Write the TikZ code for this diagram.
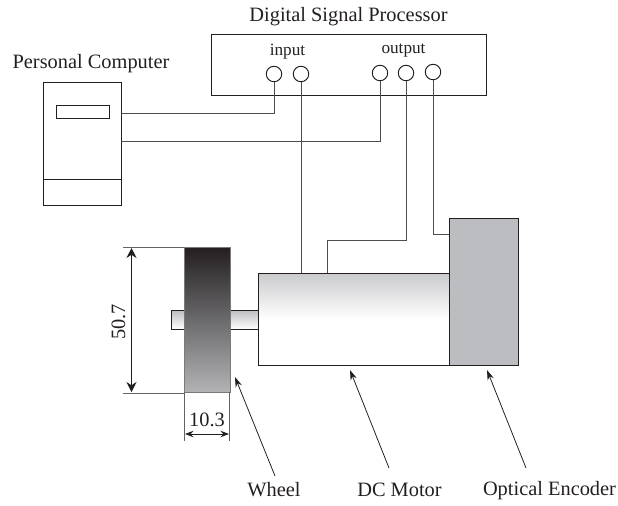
\documentclass[tikz,border=0pt]{standalone}
\usepackage{fontspec}
\setmainfont{Liberation Serif}
\usetikzlibrary{arrows.meta}
\definecolor{encgray}{HTML}{BCBDC0}
\definecolor{linegray}{HTML}{231F20}
\tikzset{
	box/.style={draw=linegray,line width=0.55pt,inner sep=0pt,outer sep=0pt},
	port/.style={circle,draw=linegray,line width=0.55pt,fill=white,inner sep=0pt,outer sep=0pt,minimum size=0.31cm},
	wire/.style={draw=linegray!80,line width=0.55pt},
	dim/.style={draw=linegray,line width=0.6pt,{Stealth[length=0.2cm,width=0.2cm]}-{Stealth[length=0.2cm,width=0.2cm]}},
	smalldim/.style={draw=linegray,line width=0.55pt,{Stealth[length=0.17cm,width=0.13cm]}-{Stealth[length=0.17cm,width=0.13cm]}},
	leader/.style={draw=linegray,line width=0.45pt,-{Stealth[length=0.2cm,width=0.13cm]}},
	ext/.style={draw=linegray!70,line width=0.55pt},
	lab/.style={inner sep=0pt,text=linegray,font=\fontsize{11.6}{13}\selectfont},
	smalllab/.style={inner sep=0pt,text=linegray,font=\fontsize{9.8}{12}\selectfont}
}
\begin{document}
\begin{tikzpicture}[x=0.02cm,y=-0.02cm]
	\useasboundingbox (0,0) rectangle (618,505);
	% titles
	\node[lab] (dsptitle) at (348.5,16.5) {Digital Signal Processor};
	\node[lab] (pctitle) at (91,64) {Personal Computer};
	% processor and its ports
	\node[box,minimum width=5.52cm,minimum height=1.22cm] (dsp) at (349,64.5) {};
	\node[smalllab] (input) at (287.5,52) {input};
	\node[smalllab] (output) at (403.5,50) {output};
	\node[port] (ina) at (274,74) {};
	\node[port] (inb) at (301,74) {};
	\node[port] (outa) at (380,73) {};
	\node[port] (outb) at (406,73) {};
	\node[port] (outc) at (433,72) {};
	% computer
	\node[box,minimum width=1.55cm,minimum height=2.47cm] (pc) at (82.5,144) {};
	\node[box,minimum width=1.06cm,minimum height=0.26cm] (slot) at (82.5,111.5) {};
	\coordinate (baya) at (43.5,179);
	\coordinate (bayb) at (121,179);
	\draw[box] (baya)--(bayb);
	% motor parts
	\node[box,top color=encgray,bottom color=white,minimum width=0.26cm,minimum height=0.38cm] (shaftl) at (178,319.5) {};
	\node[box,top color=encgray,bottom color=white,minimum width=0.58cm,minimum height=0.38cm] (shaftr) at (244,319.5) {};
	\node[box,top color=encgray!80,bottom color=white,middle color=white,minimum width=3.82cm,minimum height=1.84cm] (motor) at (353.5,319) {};
	\node[box,fill=encgray,minimum width=1.38cm,minimum height=2.94cm] (encoder) at (483.5,291.5) {};
	\node[box,draw=linegray!60,top color=linegray,bottom color=encgray!95!black,minimum width=0.92cm,minimum height=2.9cm] (wheel) at (207,319.5) {};
	% wires
	\coordinate (pca) at (121,113);
	\coordinate (pcb) at (121,141);
	\coordinate (mota) at (301,273);
	\coordinate (motb) at (327,273);
	\coordinate (motc) at (327,240);
	\coordinate (enca) at (449,234);
	\draw[wire] (pca)-|(ina.south);
	\draw[wire] (pcb)-|(outa.south);
	\draw[wire] (inb.south)--(mota);
	\draw[wire] (outb.south)|-(motc)--(motb);
	\draw[wire] (outc.south)|-(enca);
	% dimensions
	\coordinate (dimta) at (123,247);
	\coordinate (dimba) at (123,393);
	\coordinate (dimtb) at (184,247);
	\coordinate (dimbb) at (184,393);
	\coordinate (dimt) at (131.5,248);
	\coordinate (dimb) at (131.5,392);
	\draw[ext] (dimta)--(dimtb);
	\draw[ext] (dimba)--(dimbb);
	\draw[dim] (dimt)--(dimb);
	\node[lab,rotate=90] (height) at (118.5,322) {50.7};
	\coordinate (wdl) at (184.5,392);
	\coordinate (wdr) at (229.5,392);
	\coordinate (wdlb) at (184.5,441);
	\coordinate (wdrb) at (229.5,441);
	\coordinate (wal) at (185,434);
	\coordinate (war) at (229,434);
	\draw[ext] (wdl)--(wdlb);
	\draw[ext] (wdr)--(wdrb);
	\draw[smalldim] (wal)--(war);
	\node[lab] (width) at (207,420) {10.3};
	% labels and leaders
	\node[lab] (wheellab) at (274,489.5) {Wheel};
	\node[lab] (motorlab) at (399.5,489.5) {DC Motor};
	\node[lab] (enclab) at (549.5,490.5) {Optical Encoder};
	\coordinate (wheeltail) at (275,476);
	\coordinate (wheelhead) at (235,377);
	\coordinate (motortail) at (389,468);
	\coordinate (motorhead) at (350,370);
	\coordinate (enctail) at (526,468);
	\coordinate (enchead) at (487,370);
	\draw[leader] (wheeltail)--(wheelhead);
	\draw[leader] (motortail)--(motorhead);
	\draw[leader] (enctail)--(enchead);
\end{tikzpicture}
\end{document}
